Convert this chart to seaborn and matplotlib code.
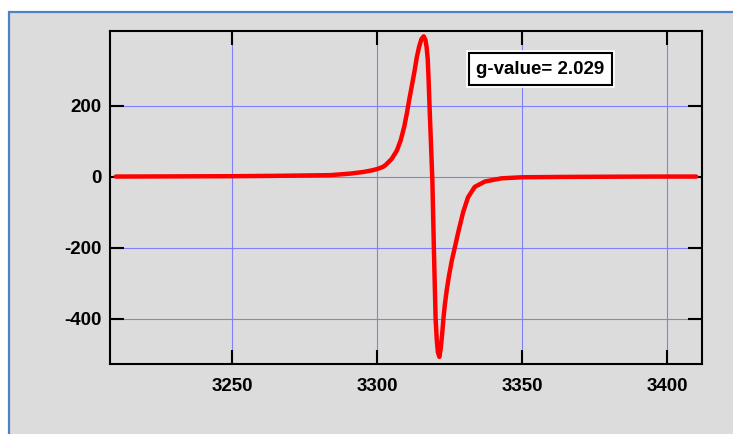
import numpy as np
import pandas as pd
import matplotlib
matplotlib.use("Agg")
import matplotlib.pyplot as plt
import matplotlib.patheffects as pe
from matplotlib.patches import Rectangle
import seaborn as sns

# values (field vs. signal)
field = [3210, 3230, 3250, 3265, 3275, 3284, 3291, 3295.4, 3298, 3300,
         3302, 3302.9, 3305.1, 3306.9, 3308.2, 3309.4, 3310.3, 3311.1, 3312, 3313,
         3313.7, 3314.5, 3315.3, 3316.1, 3316.7, 3317.1, 3317.5, 3317.8, 3318.1, 3318.6,
         3319.1, 3319.6, 3320.2, 3320.6, 3321, 3321.5, 3322, 3322.5, 3322.9, 3323.4,
         3324, 3324.8, 3325.8, 3326.9, 3328, 3329.7, 3331.4, 3333.7, 3337.2, 3342.9,
         3350, 3365, 3380, 3395, 3410]
signal = [0, 0.5, 1, 2, 3, 4, 8.5, 13, 17, 21,
          27, 32, 50, 74, 103, 141, 178, 216, 255, 300,
          335, 365, 387, 395, 385, 365, 330, 270, 200, 95,
          -15, -200, -400, -460, -495, -508, -482, -440, -400, -360,
          -322, -280, -236, -197, -157, -100, -58, -29, -14, -5,
          -2, -1, -0.5, 0, 0]

xticks = [3250, 3300, 3350, 3400]
yticks = [-400, -200, 0, 200]
g_label = "g-value= 2.029"

df = pd.DataFrame({"field": field, "signal": signal})

sns.set_style("ticks")
plt.rcParams["font.family"] = ["Liberation Sans", "DejaVu Sans"]
plt.rcParams["axes.unicode_minus"] = False

fig = plt.figure(figsize=(7.33, 4.34), dpi=100)
fig.patch.set_facecolor("white")

# grey panel with blue frame, running off the right and bottom edges
panel = Rectangle((9 / 733, -0.05), 1.0, (434 - 12) / 434 + 0.05,
                  transform=fig.transFigure, facecolor="#dcdcdc",
                  edgecolor="#4f81c7", lw=1.6, zorder=0)
fig.add_artist(panel)

ax = fig.add_axes([110 / 733, 70 / 434, 592 / 733, 333 / 434])
ax.set_facecolor("none")

sns.lineplot(data=df, x="field", y="signal", ax=ax, color="#ff0000",
             lw=3.2, solid_joinstyle="round", solid_capstyle="round", zorder=3)

ax.set_xlim(3208, 3412)
ax.set_ylim(-528, 410)
ax.set_xticks(xticks)
ax.set_yticks(yticks)
ax.set_xlabel("")
ax.set_ylabel("")

ax.grid(True, color="#8080ff", lw=0.8, zorder=1)
ax.set_axisbelow(True)
for s in ax.spines.values():
    s.set_color("black")
    s.set_linewidth(1.5)
ax.tick_params(direction="in", length=10, width=1.5, color="black",
               labelcolor="black", top=True, right=True, labelsize=13.5)
ax.tick_params(axis="x", pad=10)
ax.tick_params(axis="y", pad=6)
for lab in ax.get_xticklabels() + ax.get_yticklabels():
    lab.set_fontweight("bold")

t = ax.text(0.727, 0.885, g_label, transform=ax.transAxes, ha="center",
            va="center", fontsize=13.5, fontweight="bold", color="black", zorder=5,
            bbox=dict(boxstyle="square,pad=0.4", facecolor="white",
                      edgecolor="black", lw=1.5))
t.get_bbox_patch().set_path_effects([pe.withStroke(linewidth=4, foreground="white")])

fig.savefig("out.png", dpi=100)
